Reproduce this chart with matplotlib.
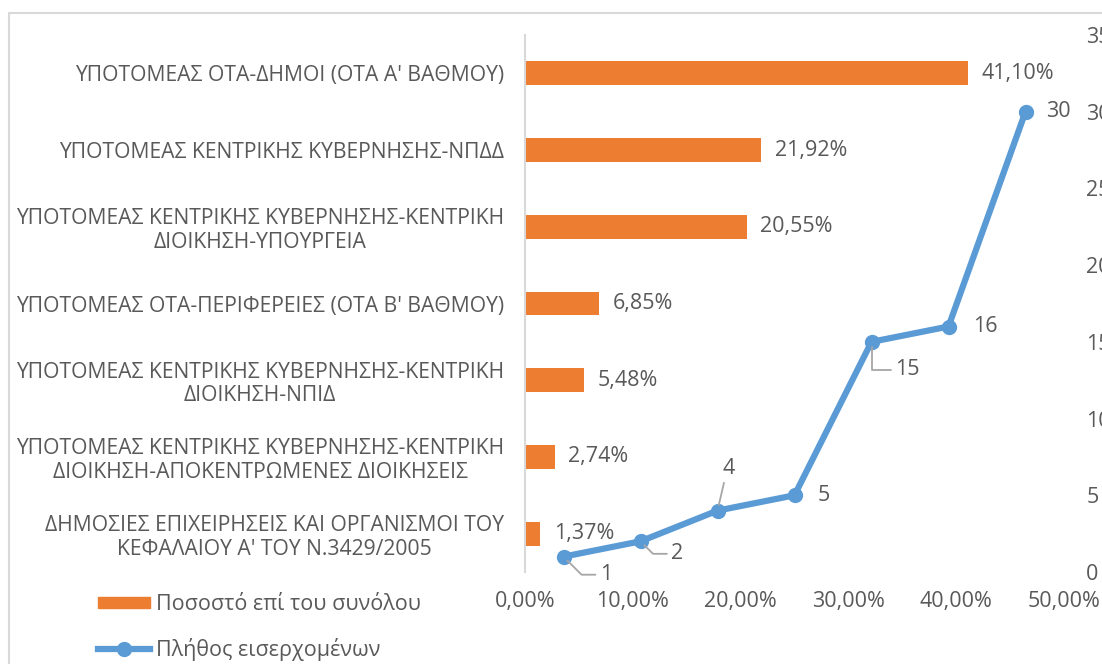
import matplotlib
matplotlib.use("Agg")
import matplotlib.pyplot as plt
from matplotlib.patches import Rectangle
from matplotlib.lines import Line2D

plt.rcParams['font.family'] = ['Open Sans', 'DejaVu Sans']

# categories, bottom to top
categories = [
    "ΔΗΜΟΣΙΕΣ ΕΠΙΧΕΙΡΗΣΕΙΣ ΚΑΙ ΟΡΓΑΝΙΣΜΟΙ ΤΟΥ\nΚΕΦΑΛΑΙΟΥ Α' ΤΟΥ Ν.3429/2005",
    "ΥΠΟΤΟΜΕΑΣ ΚΕΝΤΡΙΚΗΣ ΚΥΒΕΡΝΗΣΗΣ-ΚΕΝΤΡΙΚΗ\nΔΙΟΙΚΗΣΗ-ΑΠΟΚΕΝΤΡΩΜΕΝΕΣ ΔΙΟΙΚΗΣΕΙΣ",
    "ΥΠΟΤΟΜΕΑΣ ΚΕΝΤΡΙΚΗΣ ΚΥΒΕΡΝΗΣΗΣ-ΚΕΝΤΡΙΚΗ\nΔΙΟΙΚΗΣΗ-ΝΠΙΔ",
    "ΥΠΟΤΟΜΕΑΣ ΟΤΑ-ΠΕΡΙΦΕΡΕΙΕΣ (ΟΤΑ Β' ΒΑΘΜΟΥ)",
    "ΥΠΟΤΟΜΕΑΣ ΚΕΝΤΡΙΚΗΣ ΚΥΒΕΡΝΗΣΗΣ-ΚΕΝΤΡΙΚΗ\nΔΙΟΙΚΗΣΗ-ΥΠΟΥΡΓΕΙΑ",
    "ΥΠΟΤΟΜΕΑΣ ΚΕΝΤΡΙΚΗΣ ΚΥΒΕΡΝΗΣΗΣ-ΝΠΔΔ",
    "ΥΠΟΤΟΜΕΑΣ ΟΤΑ-ΔΗΜΟΙ (ΟΤΑ Α' ΒΑΘΜΟΥ)",
]
share_pct = [1.37, 2.74, 5.48, 6.85, 20.55, 21.92, 41.10]
incoming = [1, 2, 4, 5, 15, 16, 30]

x_ticks = [0, 10, 20, 30, 40, 50]
y2_ticks = [0, 5, 10, 15, 20, 25, 30, 35]

# label offsets (points) and leader-line style for each line point
label_pos = [
    ((26, -13), "left", "center", "angle,angleA=0,angleB=-45"),
    ((22, -9), "left", "center", "angle,angleA=0,angleB=-45"),
    ((8, 23), "center", "bottom", "arc3"),
    ((17, 0), "left", "center", None),
    ((17, -20), "left", "center", "angle,angleA=0,angleB=90"),
    ((18, 0), "left", "center", None),
    ((15, 0), "left", "center", None),
]

ORANGE = "#ED7D31"
BLUE = "#5B9BD5"
TEXT = "#595959"
FS = 15.5

fig = plt.figure(figsize=(11.02, 6.64), dpi=100)

# chart frame
fig.patches.append(Rectangle((9 / 1102, -0.1), 1.2, 1.1 - 13 / 664,
                             transform=fig.transFigure, fill=False,
                             edgecolor="#D9D9D9", linewidth=1.5))

rect = [525 / 1102, 1 - 572 / 664, (1064 - 525) / 1102, (572 - 35) / 664]
ax = fig.add_axes(rect)
ypos = list(range(len(categories)))
bars = ax.barh(ypos, share_pct, height=0.31, color=ORANGE)
ax.bar_label(bars, labels=[f"{v:.2f}%".replace(".", ",") for v in share_pct],
             padding=10, color=TEXT, fontsize=FS)
ax.set_xlim(0, 50)
ax.set_ylim(-0.5, len(categories) - 0.5)
ax.set_xticks(x_ticks)
ax.set_xticklabels([f"{t:.2f}%".replace(".", ",") for t in x_ticks])
ax.set_yticks(ypos)
ax.set_yticklabels(categories, multialignment="center", linespacing=1.15,
                   fontsize=15.2)
ax.tick_params(length=0, colors=TEXT)
ax.tick_params(axis="x", pad=14, labelsize=FS)
ax.tick_params(axis="y", pad=15)
for s in ["top", "right", "bottom"]:
    ax.spines[s].set_visible(False)
ax.spines["left"].set_color("#D9D9D9")
ax.spines["left"].set_linewidth(1.5)

# secondary axes for the count line
ax2 = fig.add_axes(rect, frameon=False)
ax2.plot(ypos, incoming, color=BLUE, linewidth=4.5, marker="o",
         markersize=10, solid_capstyle="round")
ax2.set_xlim(-0.5, len(categories) - 0.5)
ax2.set_ylim(0, 35)
ax2.set_xticks([])
ax2.yaxis.tick_right()
ax2.set_yticks(y2_ticks)
ax2.tick_params(length=0, colors=TEXT, labelsize=FS, pad=16)

for i, v in enumerate(incoming):
    off, ha, va, conn = label_pos[i]
    kw = {}
    if conn:
        kw["arrowprops"] = dict(arrowstyle="-", color="#A6A6A6", lw=1.3,
                                connectionstyle=conn, shrinkA=1, shrinkB=4,
                                relpos=(0, 0.5) if ha == "left" else (0.2, 0))
    ax2.annotate(str(v), (i, v), xytext=off, textcoords="offset points",
                 ha=ha, va=va, color=TEXT, fontsize=FS, **kw)

# legend
handles = [Rectangle((0, 0), 1, 1, color=ORANGE),
           Line2D([], [], color=BLUE, linewidth=4.5, marker="o", markersize=10)]
fig.legend(handles, ["Ποσοστό επί του συνόλου", "Πλήθος εισερχομένων"],
           loc="upper left", bbox_to_anchor=(98 / 1102, 1 - 594 / 664),
           frameon=False, fontsize=FS, labelcolor=TEXT, handlelength=2.4,
           handleheight=0.45, handletextpad=0.3, labelspacing=1.05,
           borderpad=0, borderaxespad=0)

fig.savefig("out.png", dpi=100)
